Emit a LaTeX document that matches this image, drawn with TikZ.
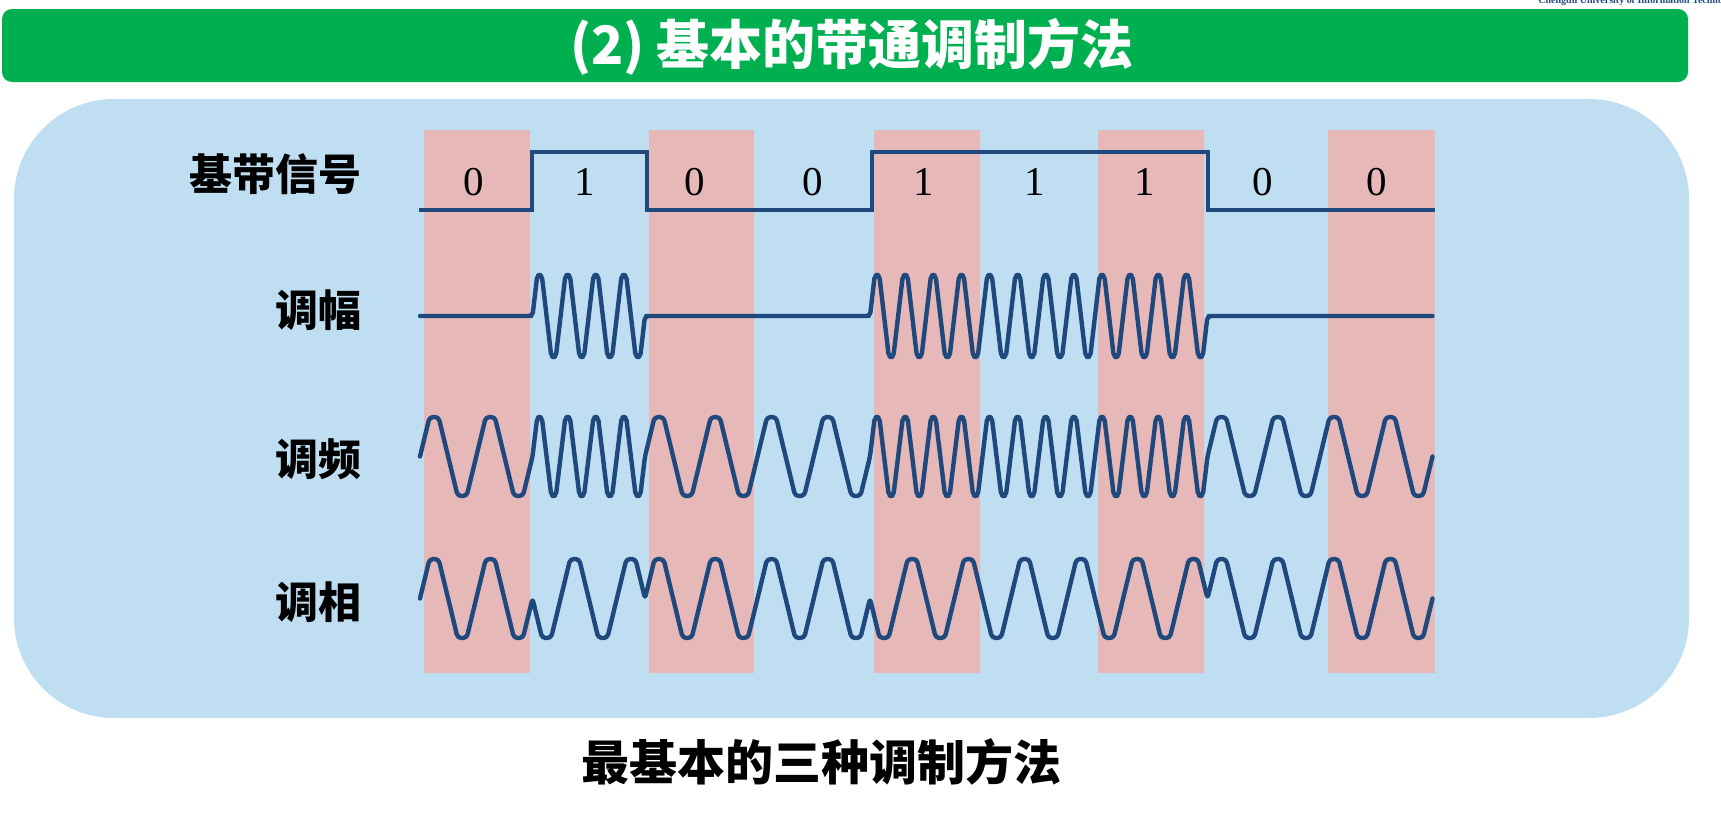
\documentclass[tikz,border=0pt]{standalone}
\usepackage{fontspec}
\setmainfont{Liberation Serif}
\newfontfamily\cjk{Noto Sans CJK SC}
\definecolor{bluebg}{RGB}{191,222,242}
\definecolor{pinkst}{RGB}{230,184,183}
\definecolor{wavec}{RGB}{31,73,125}
\definecolor{greenbar}{RGB}{0,176,80}
\def\wf{0.08}
\begin{document}
\begin{tikzpicture}[x=0.5pt,y=-0.5pt,
  wave/.style={draw=wavec, line width=2.2pt, rounded corners=1.8pt, line join=round, line cap=round},
  sqwave/.style={draw=wavec, line width=2pt, line join=miter},
  rowlabel/.style={anchor=east, font=\cjk\bfseries\fontsize{21.5pt}{24pt}\selectfont, inner sep=0pt},
  bitlabel/.style={font=\fontsize{20.5pt}{22pt}\selectfont, inner sep=0pt},
  stripe/.style={fill=pinkst},
]
\useasboundingbox (0,0) rectangle (1721,831);
% top bar
\fill[greenbar, rounded corners=5pt] (2,9) rectangle (1688,82);
\node[font=\cjk\bfseries\fontsize{26.5pt}{28pt}\selectfont, text=white, inner sep=0pt] (title) at (852,47) {(2) 基本的带通调制方法};
\begin{scope}
\clip (0,0) rectangle (1721,831);
\node[anchor=base west, font=\bfseries\fontsize{5pt}{6pt}\selectfont, text=wavec, inner sep=0pt] (univ) at (1538,3.5) {Chengdu University of Information Technology};
\end{scope}
% panel
\fill[bluebg, rounded corners=50pt] (14,99) rectangle (1689,718);
\foreach \a/\b in {423.7/530, 648.7/754, 873.7/980, 1097.6/1204, 1328/1435}
  \fill[stripe] (\a,130) rectangle (\b,673);
% labels
\node[rowlabel] (lbase) at (361.7,174) {基带信号};
\node[rowlabel] (lask) at (361.7,310) {调幅};
\node[rowlabel] (lfsk) at (361.7,459.5) {调频};
\node[rowlabel] (lpsk) at (361.7,602) {调相};
% baseband
\draw[sqwave] (419,210) -- (531.5,210) -- (531.5,152) -- (646.5,152) -- (646.5,210) -- (871.5,210) -- (871.5,152) -- (1208,152) -- (1208,210) -- (1435,210);
\foreach \x/\d [count=\j] in {474/0, 585/1, 695/0, 812.7/0, 924/1, 1034.8/1, 1144.7/1, 1262.5/0, 1377/0}
  \node[bitlabel] (bit\j) at (\x,182) {\d};
% ASK
\draw[wave] (420,316) \foreach \b [count=\k from 0] in {0,1,0,0,1,1,1,0,0} {
   \foreach \i in {1,...,4} {
     -- ({420+112.5*\k+28.125*(\i-0.75-\wf)}, {316-41*\b})
     -- ({420+112.5*\k+28.125*(\i-0.75+\wf)}, {316-41*\b})
     -- ({420+112.5*\k+28.125*(\i-0.25-\wf)}, {316+41*\b})
     -- ({420+112.5*\k+28.125*(\i-0.25+\wf)}, {316+41*\b})
     -- ({420+112.5*\k+28.125*\i}, 316)
   }
 };
% FSK
\draw[wave] (420,456.5) \foreach \b [count=\k from 0, evaluate=\b as \n using int(2+2*\b)] in {0,1,0,0,1,1,1,0,0} {
   \foreach \i in {1,...,\n} {
     -- ({420+112.5*\k+112.5/\n*(\i-0.75-\wf)}, 417)
     -- ({420+112.5*\k+112.5/\n*(\i-0.75+\wf)}, 417)
     -- ({420+112.5*\k+112.5/\n*(\i-0.25-\wf)}, 496)
     -- ({420+112.5*\k+112.5/\n*(\i-0.25+\wf)}, 496)
     -- ({420+112.5*\k+112.5/\n*\i}, 456.5)
   }
 };
% PSK
\draw[wave] (420,598.5) \foreach \b [count=\k from 0] in {0,1,0,0,1,1,1,0,0} {
   \foreach \i in {1,2} {
     -- ({420+112.5*\k+56.25*(\i-0.75-\wf)}, {598.5-(1-2*\b)*39.5})
     -- ({420+112.5*\k+56.25*(\i-0.75+\wf)}, {598.5-(1-2*\b)*39.5})
     -- ({420+112.5*\k+56.25*(\i-0.25-\wf)}, {598.5+(1-2*\b)*39.5})
     -- ({420+112.5*\k+56.25*(\i-0.25+\wf)}, {598.5+(1-2*\b)*39.5})
     -- ({420+112.5*\k+56.25*\i}, 598.5)
   }
 };
% caption
\node[font=\cjk\bfseries\fontsize{24pt}{26pt}\selectfont, inner sep=0pt] (caption) at (821,762) {最基本的三种调制方法};
\end{tikzpicture}
\end{document}
